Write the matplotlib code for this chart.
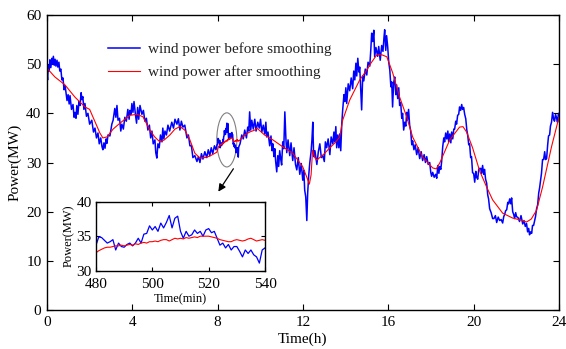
import numpy as np
import matplotlib
matplotlib.use("Agg")
import matplotlib.pyplot as plt
from matplotlib.patches import Ellipse

plt.rcParams['font.family'] = ['Liberation Serif', 'DejaVu Serif']

# ---------------- data ----------------
blue_t = [0.00, 0.03, 0.06, 0.10, 0.14, 0.18, 0.23, 0.26, 0.30, 0.34, 0.38, 0.42, 0.47, 0.51, 0.56,
          0.60, 0.65, 0.70, 0.75, 0.80, 0.85, 0.94, 0.99, 1.04, 1.08, 1.15, 1.22, 1.27, 1.31, 1.36,
          1.40, 1.45, 1.50, 1.55, 1.60, 1.64, 1.68, 1.73, 1.78, 1.85, 1.92, 2.00, 2.10, 2.18, 2.25,
          2.32, 2.39, 2.45, 2.52, 2.58, 2.62, 2.67, 2.72, 2.77, 2.81, 2.86, 2.95, 3.04, 3.10, 3.18,
          3.23, 3.28, 3.33, 3.40, 3.46, 3.51, 3.58, 3.65, 3.72, 3.79, 3.85, 3.89, 3.94, 3.98, 4.03,
          4.08, 4.15, 4.20, 4.25, 4.30, 4.36, 4.45, 4.52, 4.59, 4.66, 4.73, 4.80, 4.86, 4.92, 4.98,
          5.06, 5.10, 5.15, 5.20, 5.26, 5.32, 5.39, 5.43, 5.48, 5.53, 5.60, 5.67, 5.75, 5.85, 5.93,
          6.00, 6.09, 6.16, 6.23, 6.30, 6.37, 6.46, 6.56, 6.63, 6.70, 6.77, 6.84, 6.93, 7.03, 7.10,
          7.17, 7.24, 7.31, 7.40, 7.49, 7.56, 7.63, 7.70, 7.77, 7.85, 7.92, 7.97]
blue_p = [48.0, 46.8, 49.8, 48.6, 50.9, 49.3, 51.2, 50.0, 51.6, 49.8, 51.0, 49.6, 50.8, 49.4, 50.4,
          48.6, 49.0, 46.8, 47.2, 44.8, 45.6, 42.6, 43.8, 41.9, 43.6, 40.8, 41.8, 39.2, 40.2, 39.0,
          41.6, 39.8, 42.4, 41.6, 44.2, 42.8, 43.4, 40.8, 42.0, 39.4, 40.0, 37.8, 38.6, 36.2, 37.0,
          35.0, 36.0, 33.8, 35.0, 33.2, 32.6, 34.0, 32.9, 34.8, 33.9, 35.6, 35.4, 37.8, 38.6, 41.0,
          39.2, 41.6, 38.6, 39.0, 36.4, 37.8, 36.8, 39.2, 38.4, 40.8, 38.8, 40.6, 39.8, 42.0, 40.2,
          42.4, 39.6, 38.0, 41.2, 38.8, 41.6, 39.8, 40.6, 38.4, 39.0, 36.6, 37.6, 35.0, 36.4, 33.8,
          34.6, 32.0, 30.9, 33.8, 33.0, 35.6, 34.2, 37.0, 34.8, 36.4, 35.6, 37.6, 36.4, 38.2, 37.0,
          38.8, 37.8, 38.9, 36.6, 38.4, 37.2, 37.6, 35.0, 35.6, 33.4, 33.4, 31.0, 31.4, 30.2, 31.2,
          30.0, 31.8, 30.7, 32.2, 31.0, 32.6, 31.4, 33.0, 31.8, 33.4, 32.6, 33.6]

# one-minute detail 480-540 min (also used for the inset)
inset_min = list(range(480, 541))
inset_blue = [33.7, 34.9, 34.8, 34.4, 34.0, 34.2, 34.5, 33.0, 34.0, 33.5, 33.4, 33.8, 34.0, 33.6,
              34.0, 34.7, 34.0, 35.3, 35.4, 36.5, 35.9, 36.4, 35.7, 36.9, 36.2, 37.0, 38.0, 36.2,
              37.6, 37.9, 35.7, 34.7, 35.7, 35.0, 35.2, 35.9, 35.4, 35.7, 35.0, 35.9, 36.1, 35.5,
              35.7, 34.7, 33.7, 34.0, 33.3, 33.8, 33.0, 33.5, 33.5, 32.8, 32.0, 33.0, 32.5, 33.0,
              32.3, 32.0, 31.1, 33.0, 33.3]
inset_red = [32.6, 32.9, 33.1, 33.3, 33.4, 33.4, 33.5, 33.6, 33.6, 33.7, 33.6, 33.7, 33.8, 33.7,
             33.9, 33.8, 34.0, 34.1, 34.0, 34.2, 34.2, 34.3, 34.2, 34.4, 34.5, 34.5, 34.3, 34.5,
             34.7, 34.6, 34.7, 34.6, 34.8, 34.7, 34.8, 34.9, 34.8, 35.0, 35.0, 35.0, 35.0, 34.9,
             34.8, 34.7, 34.5, 34.4, 34.3, 34.2, 34.2, 34.4, 34.5, 34.4, 34.3, 34.4, 34.6, 34.7,
             34.5, 34.3, 34.4, 34.5, 34.4]

blue_t2 = [9.05, 9.13, 9.20, 9.27, 9.35, 9.41, 9.46, 9.50, 9.55, 9.60, 9.67, 9.74, 9.80, 9.88, 9.95,
           10.01, 10.07, 10.14, 10.21, 10.26, 10.30, 10.36, 10.44, 10.50, 10.55, 10.59, 10.64, 10.68,
           10.72, 10.77, 10.82, 10.86, 10.91, 10.96, 11.00, 11.05, 11.10, 11.15, 11.20, 11.24, 11.30,
           11.38, 11.44, 11.52, 11.58, 11.65, 11.71, 11.78, 11.85, 11.92, 11.99, 12.04, 12.08, 12.13,
           12.18, 12.22, 12.27, 12.32, 12.38, 12.42, 12.46, 12.50, 12.56, 12.65, 12.72, 12.79, 12.86,
           12.93, 13.00, 13.05, 13.11, 13.18, 13.26, 13.32, 13.40, 13.45, 13.49, 13.54, 13.58, 13.63,
           13.68, 13.72, 13.77, 13.82, 13.86, 13.92, 13.96, 14.01, 14.05, 14.12, 14.19, 14.26, 14.33,
           14.38, 14.43, 14.48, 14.52, 14.57, 14.62, 14.66, 14.71, 14.75, 14.80, 14.85, 14.92, 14.99,
           15.05, 15.13, 15.18, 15.22, 15.27, 15.32, 15.36, 15.42, 15.50, 15.55, 15.62, 15.69, 15.75,
           15.80, 15.83, 15.88, 15.92, 15.97, 16.02, 16.07, 16.12, 16.16, 16.20, 16.25, 16.30, 16.35,
           16.39, 16.44, 16.49, 16.53, 16.58, 16.63, 16.67, 16.72, 16.77, 16.82, 16.86, 16.90, 16.95,
           17.00, 17.05, 17.10, 17.14, 17.20, 17.26, 17.33, 17.40, 17.47, 17.54, 17.61, 17.68, 17.74,
           17.80, 17.87, 17.94, 17.99, 18.03, 18.08, 18.15, 18.22, 18.27, 18.32, 18.37, 18.41, 18.46,
           18.50, 18.55, 18.60, 18.64, 18.69, 18.74, 18.79, 18.83, 18.88, 18.93, 18.97, 19.02, 19.07,
           19.11, 19.16, 19.20, 19.25, 19.30, 19.34, 19.39, 19.44, 19.48, 19.53, 19.58, 19.63, 19.68,
           19.72, 19.77, 19.81, 19.86, 19.90, 19.95, 20.00, 20.05, 20.10, 20.14, 20.19, 20.24, 20.28,
           20.33, 20.37, 20.42, 20.47, 20.51, 20.56, 20.61, 20.66, 20.70, 20.75, 20.82, 20.89, 20.95,
           21.02, 21.08, 21.15, 21.22, 21.29, 21.36, 21.41, 21.45, 21.50, 21.55, 21.60, 21.64, 21.69,
           21.74, 21.78, 21.83, 21.88, 21.92, 21.97, 22.01, 22.08, 22.15, 22.22, 22.30, 22.36, 22.42,
           22.48, 22.53, 22.58, 22.62, 22.67, 22.72, 22.76, 22.81, 22.86, 22.90, 22.95, 23.00, 23.05,
           23.09, 23.14, 23.18, 23.23, 23.28, 23.33, 23.37, 23.42, 23.47, 23.51, 23.56, 23.60, 23.65,
           23.70, 23.75, 23.79, 23.84, 23.89, 23.93, 23.97, 24.00]
blue_p2 = [33.8, 35.6, 34.8, 36.6, 35.0, 37.2, 36.4, 40.3, 36.6, 38.6, 36.8, 38.8, 36.4, 38.2, 37.0,
           38.8, 36.2, 37.6, 35.8, 38.2, 35.2, 36.2, 33.4, 35.4, 32.4, 33.8, 31.2, 32.8,
           30.2, 28.1, 31.4, 29.2, 32.4, 30.6, 29.5, 34.2, 32.8, 40.3, 34.8, 32.0, 34.6,
           31.4, 34.0, 30.4, 33.0, 29.6, 28.5, 31.0, 27.6, 29.8, 26.4, 28.4, 24.4, 23.0,
           18.2, 23.8, 27.4, 30.0, 32.2, 34.6, 38.2, 31.2, 32.4, 29.6, 32.2, 33.8, 31.0,
           31.4, 30.2, 34.2, 33.0, 34.8, 31.6, 35.2, 33.8, 36.2, 34.2, 37.3, 33.0, 35.6,
           33.0, 35.8, 32.4, 38.0, 40.6, 43.8, 42.4, 45.2, 42.0, 46.0, 44.6, 47.2, 45.0,
           48.6, 46.8, 50.2, 47.6, 51.2, 48.4, 49.4, 44.5, 40.7, 47.6, 46.6, 49.0, 47.8,
           50.4, 49.6, 53.0, 56.3, 54.6, 56.9, 51.5, 53.4, 51.6, 53.6, 50.8, 53.8, 52.6,
           55.6, 57.0, 52.8, 55.8, 53.6, 50.4, 48.8, 45.4, 46.4, 41.3, 46.2, 47.4, 43.8,
           45.8, 43.0, 45.2, 41.6, 42.2, 39.0, 40.0, 36.6, 38.2, 37.4, 40.2, 38.6, 40.8,
           37.6, 36.4, 33.6, 34.4, 32.6, 33.6, 31.6, 33.0, 30.8, 32.2, 30.4, 31.6, 30.0,
           31.2, 29.6, 30.0, 28.0, 27.2, 28.0, 27.0, 27.6, 26.8, 29.4, 27.8, 29.2, 28.6,
           30.2, 33.2, 35.0, 34.2, 36.0, 34.8, 36.4, 34.2, 35.8, 34.0, 36.2, 34.8, 36.8,
           36.8, 38.4, 37.8, 39.6, 39.8, 41.3, 40.6, 41.8, 40.8, 41.2, 39.8, 38.9, 36.6,
           35.6, 33.6, 33.8, 31.0, 31.2, 27.9, 27.8, 26.0, 28.2, 27.0, 26.6, 28.6, 28.8,
           28.8, 27.8, 29.4, 27.6, 28.6, 26.6, 25.8, 23.4, 22.6, 20.6, 19.8, 18.6, 18.6,
           19.2, 17.8, 18.9, 18.2, 18.4, 17.7, 19.0, 19.4, 20.2, 20.4, 21.9, 21.6, 22.6,
           21.6, 22.8, 20.0, 19.4, 18.6, 19.8, 19.0, 18.8, 18.0, 19.2, 17.5, 18.2, 17.0,
           17.6, 15.9, 16.6, 15.3, 15.9, 15.6, 17.2, 17.2, 18.2, 19.0, 20.6, 21.4, 23.8,
           24.8, 26.4, 27.8, 30.6, 30.6, 32.2, 30.6, 30.8, 33.6, 35.4, 35.6, 37.4, 38.2,
           40.2, 38.8, 38.4, 39.8, 39.0, 38.2, 39.8, 40.0]

red_t = [0.00, 0.37, 0.84, 1.31, 1.78, 2.00, 2.30, 2.48, 2.62, 2.81, 3.10, 3.42, 3.89, 4.22, 4.50,
         4.82, 5.05, 5.29, 5.50, 5.76, 6.00, 6.23, 6.46, 6.70, 6.93, 7.17, 7.40, 7.63, 7.96]
red_p = [49.2, 47.4, 45.8, 43.3, 41.3, 40.8, 37.8, 36.0, 35.0, 35.2, 36.8, 38.0, 39.6, 39.8, 39.3,
         36.6, 35.2, 34.2, 34.6, 35.6, 36.8, 37.3, 36.6, 34.6, 31.9, 30.9, 31.0, 31.3, 32.1]
red_t2 = [9.27, 9.50, 9.74, 9.84, 10.20, 10.59, 11.05, 11.52, 11.99, 12.18, 12.30, 12.38, 12.45,
          12.55, 12.65, 13.00, 13.26, 13.50, 13.72, 13.86, 14.19, 14.66, 14.99, 15.20, 15.46, 15.70,
          15.93, 16.20, 16.53, 16.86, 17.14, 17.61, 18.08, 18.25, 18.41, 18.88, 19.34, 19.50, 19.67,
          19.95, 20.28, 20.61, 20.89, 21.36, 21.83, 22.20, 22.48, 22.70, 22.95, 23.23, 23.65, 23.93,
          24.00]
red_p2 = [35.6, 36.2, 36.6, 37.0, 35.6, 34.6, 33.2, 31.9, 29.1, 27.0, 25.6, 27.5, 32.5,
          31.0, 30.5, 31.8, 33.0, 34.0, 35.2, 38.6, 42.7, 46.8, 48.8, 50.3, 51.9, 51.9,
          51.5, 48.3, 43.3, 39.3, 35.2, 31.1, 28.9, 28.7, 29.9, 34.6, 37.2, 37.3, 36.2,
          33.0, 28.3, 25.0, 22.4, 19.7, 18.7, 18.3, 17.9, 18.5, 20.3, 25.0, 33.2, 38.0,
          39.0]

x_ticks = [0, 4, 8, 12, 16, 20, 24]
y_ticks = [0, 10, 20, 30, 40, 50, 60]
inset_x_ticks = [480, 500, 520, 540]
inset_y_ticks = [30, 35, 40]

# assemble full series
inset_h = [m / 60.0 for m in inset_min]
before_t = blue_t + inset_h + blue_t2
before_p = blue_p + inset_blue + blue_p2
after_t = red_t + inset_h + red_t2
after_p = red_p + inset_red + red_p2

# ---------------- figure ----------------
fig = plt.figure(figsize=(5.66, 3.49), dpi=100)
ax = fig.add_axes([0.083, 0.1117, 0.9046, 0.8453])

ax.plot(before_t, before_p, color='#0000ff', lw=1.1, label='wind power before smoothing')
ax.plot(after_t, after_p, color='#ff0000', lw=0.8, label='wind power after smoothing')

ax.set_xlim(0, 24)
ax.set_ylim(0, 60)
ax.set_xticks(x_ticks)
ax.set_yticks(y_ticks)
ax.tick_params(direction='in', top=True, right=True, labelsize=11, length=4, width=0.8, pad=4)
for s in ax.spines.values():
    s.set_linewidth(1.0)
ax.set_xlabel('Time(h)', fontsize=11, labelpad=3)
ax.set_ylabel('Power(MW)', fontsize=11, labelpad=3)

leg = ax.legend(loc='upper left', bbox_to_anchor=(0.119, 0.908), frameon=False,
                fontsize=11, handlelength=2.1, handletextpad=0.5, borderpad=0,
                borderaxespad=0, labelspacing=0.6)
for t in leg.get_texts():
    t.set_color('#222222')

# ellipse and arrow
ax.add_patch(Ellipse((8.43, 34.6), 0.94, 11.0, fill=False, edgecolor='#808080', lw=0.8))
ax.annotate('', xy=(7.96, 23.6), xytext=(8.81, 29.2),
            arrowprops=dict(arrowstyle='-|>', color='black', lw=0.9, mutation_scale=11))

# inset
axi = fig.add_axes([0.1696, 0.2244, 0.2986, 0.1977])
axi.plot(inset_min, inset_blue, color='#0000ff', lw=0.9)
axi.plot(inset_min, inset_red, color='#ff0000', lw=0.8)
axi.set_xlim(480, 540)
axi.set_ylim(30, 40)
axi.set_xticks(inset_x_ticks)
axi.set_yticks(inset_y_ticks)
axi.tick_params(axis='x', direction='in', top=True, labelsize=11, length=3, width=0.8, pad=5)
axi.tick_params(axis='y', direction='in', right=True, labelsize=11, length=3, width=0.8, pad=3)
for s in axi.spines.values():
    s.set_linewidth(1.0)
axi.set_xlabel('Time(min)', fontsize=9, labelpad=2)
axi.set_ylabel('Power(MW)', fontsize=9, labelpad=1)

fig.savefig('out.png', dpi=100)
